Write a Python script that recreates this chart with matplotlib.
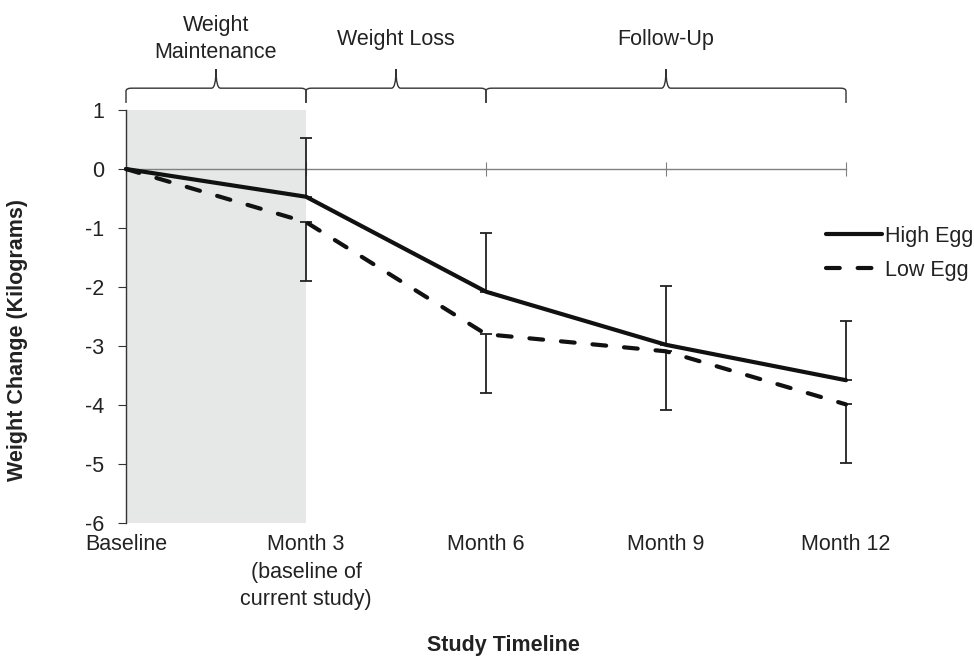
import numpy as np
import matplotlib.pyplot as plt
from matplotlib.path import Path
from matplotlib.patches import PathPatch

plt.rcParams['font.family'] = ['Liberation Sans', 'DejaVu Sans']
plt.rcParams['axes.unicode_minus'] = False

# data
timepoints = ["Baseline", "Month 3\n(baseline of\ncurrent study)", "Month 6", "Month 9", "Month 12"]
high_egg = [0.0, -0.47, -2.08, -2.98, -3.58]
low_egg = [0.0, -0.90, -2.80, -3.09, -3.99]
high_err = [0.0, 1.0, 1.0, 1.0, 1.0]   # upper bars only
low_err = [0.0, 1.0, 1.0, 1.0, 1.0]    # lower bars only

phases = ["Weight\nMaintenance", "Weight Loss", "Follow-Up"]
phase_bounds = [(0, 1), (1, 2), (2, 4)]

yticks = [1, 0, -1, -2, -3, -4, -5, -6]

x = np.arange(len(timepoints))

fig = plt.figure(figsize=(9.74, 6.58), dpi=100)
ax = fig.add_axes([126 / 974, 1 - 523 / 658, 720 / 974, 413 / 658])

fs = 15.5

# shaded weight maintenance period
ax.axvspan(0, 1, color="#e6e7e7", zorder=0, lw=0)

# lines
ax.plot(x, high_egg, color="#111111", lw=3.0, solid_capstyle="round",
        label="High Egg", zorder=4, clip_on=False)
ax.plot(x, low_egg, color="#111111", lw=3.0, dashes=(3.3, 4.3),
        dash_capstyle="round", label="Low Egg", zorder=4, clip_on=False)

# one-sided error bars
ax.errorbar(x[1:], high_egg[1:], yerr=[np.zeros(4), high_err[1:]], fmt="none",
            ecolor="#222222", elinewidth=1.3, capsize=4.5, capthick=1.3, zorder=3, clip_on=False)
ax.errorbar(x[1:], low_egg[1:], yerr=[low_err[1:], np.zeros(4)], fmt="none",
            ecolor="#222222", elinewidth=1.3, capsize=4.5, capthick=1.3, zorder=3, clip_on=False)

ax.set_xlim(0, 4)
ax.set_ylim(-6, 1)

# x axis line at zero with cross ticks, labels at the bottom
ax.spines["bottom"].set_position(("data", 0))
ax.spines["bottom"].set_color("#808080")
ax.spines["bottom"].set_linewidth(1.0)
ax.spines["top"].set_visible(False)
ax.spines["right"].set_visible(False)
ax.spines["left"].set_color("#333333")
ax.spines["left"].set_linewidth(1.0)
ax.set_xticks(x)
ax.tick_params(axis="x", direction="inout", length=10, color="#808080",
               labelbottom=False)

sec = ax.secondary_xaxis(0)
sec.set_xticks(x, timepoints)
sec.spines["bottom"].set_visible(False)
sec.tick_params(axis="x", length=0, pad=8, labelsize=fs, labelcolor="#222222")
for lab in sec.get_xticklabels():
    lab.set_linespacing(1.4)

ax.set_yticks(yticks, [str(v) for v in yticks])
ax.tick_params(axis="y", direction="out", length=5.5, color="#333333",
               labelsize=fs, labelcolor="#222222", pad=10)

# braces above the plot
def brace(x0, x1, y, down, up, rx, cw):
    xm = (x0 + x1) / 2
    verts = [(x0, y - down), (x0, y - down * 0.2),
             (x0, y), (x0 + rx, y),
             (xm - cw, y),
             (xm, y), (xm, y + up),
             (xm, y), (xm + cw, y),
             (x1 - rx, y),
             (x1, y), (x1, y - down * 0.2),
             (x1, y - down)]
    codes = [Path.MOVETO, Path.LINETO,
             Path.CURVE3, Path.CURVE3,
             Path.LINETO,
             Path.CURVE3, Path.CURVE3,
             Path.CURVE3, Path.CURVE3,
             Path.LINETO,
             Path.CURVE3, Path.CURVE3,
             Path.LINETO]
    patch = PathPatch(Path(verts, codes), fill=False, edgecolor="#333333",
                      lw=1.0, clip_on=False)
    ax.add_patch(patch)

for (a, b), name in zip(phase_bounds, phases):
    brace(a, b, 1.37, 0.25, 0.32, 0.03, 0.025)
    ax.text((a + b) / 2, 2.2, name, ha="center", va="center", fontsize=fs,
            color="#222222", multialignment="center", linespacing=1.4, clip_on=False)

leg = ax.legend(loc="upper left", bbox_to_anchor=(0.972, 0.72), frameon=False,
                fontsize=fs, handlelength=2.6, handletextpad=0.15,
                borderpad=0, borderaxespad=0, labelspacing=0.6)
for t in leg.get_texts():
    t.set_color("#222222")

fig.text(18 / 974, 1 - 340 / 658, "Weight Change (Kilograms)", rotation=90,
         ha="center", va="center", fontsize=fs, fontweight="bold", color="#222222")
fig.text(503 / 974, 1 - 646 / 658, "Study Timeline", ha="center", va="center",
         fontsize=fs, fontweight="bold", color="#222222")

fig.savefig("out.png", dpi=100)
